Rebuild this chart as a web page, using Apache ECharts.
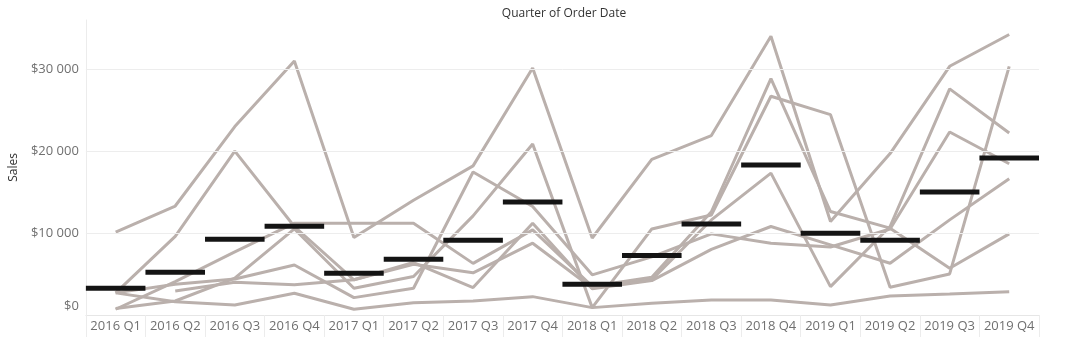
<!DOCTYPE html>
<html>
<head>
<meta charset="utf-8">
<script src="https://cdn.jsdelivr.net/npm/echarts@6/dist/echarts.min.js"></script>
<style>
  html, body { margin: 0; padding: 0; background: #ffffff; }
  #chart { width: 1068px; height: 347px; }
</style>
</head>
<body>
<div id="chart"></div>
<script>
// Quarterly sales, one grey line per group, black bar = quarter average
const quarters = ['2016 Q1', '2016 Q2', '2016 Q3', '2016 Q4',
                  '2017 Q1', '2017 Q2', '2017 Q3', '2017 Q4',
                  '2018 Q1', '2018 Q2', '2018 Q3', '2018 Q4',
                  '2019 Q1', '2019 Q2', '2019 Q3', '2019 Q4'];

const line1 = [10100, 13300, 23000, 31000, 9450, 14000, 18200, 30150, 9400, 19000, 21900, 34020, 11410, 19700, 30350, 34230];
const line2 = [2700, 9600, 20000, 10800, 4300, 6200, 5150, 8760, 3300, 4300, 11600, 17320, 3460, 10800, 27590, 22210];
const line3 = [800, 1710, 4500, 10500, 3260, 4700, 12100, 20870, 900, 10500, 12200, 26690, 24450, 3380, 5010, 30350];
const line4 = [700, 4080, 7700, 11200, 11200, 11200, 6300, 10390, 3500, 4600, 12600, 28850, 12630, 10600, 5710, 9900];
const line5 = [2700, 3750, 4400, 6100, 2120, 3260, 17450, 13240, 4900, 7100, 9900, 8760, 8300, 10500, 22330, 18460];
const line6 = [null, 2930, 4000, 3700, 4300, 6400, 3350, 11200, 3200, 4200, 8000, 10800, 8560, 6320, 11610, 16630];
const line7 = [2700, 1630, 1220, 2650, 700, 1500, 1700, 2240, 900, 1430, 1830, 1830, 1220, 2320, 2570, 2850];

const quarterAverage = [3260, 5220, 9250, 10840, 5100, 6810, 9130, 13780, 3750, 7250, 11120, 18300, 9990, 9130, 15000, 19150];

const yTicks = [0, 10000, 20000, 30000];

const groupLines = [line1, line2, line3, line4, line5, line6, line7];

function money(v) {
  return '$' + String(v).replace(/\B(?=(\d{3})+(?!\d))/g, ' ');
}

const FONT = '"Open Sans", "Noto Sans", sans-serif';
const LINE_GREY = '#bab0ac';

const chart = echarts.init(document.getElementById('chart'), null, { renderer: 'canvas' });

const series = [];

// light horizontal gridlines at the labelled ticks
series.push({
  type: 'line',
  data: [],
  silent: true,
  z: 1,
  markLine: {
    silent: true,
    symbol: ['none', 'none'],
    label: { show: false },
    lineStyle: { color: '#ededed', width: 1, type: 'solid' },
    emphasis: { disabled: true },
    data: yTicks.filter(v => v > 0).map(v => ({ yAxis: v }))
  }
});

groupLines.forEach((vals, k) => {
  series.push({
    type: 'line',
    name: 'group' + (k + 1),
    data: vals,
    symbol: 'none',
    smooth: false,
    connectNulls: false,
    lineStyle: { color: LINE_GREY, width: 3 },
    emphasis: { disabled: true },
    z: 2
  });
});

// quarter average drawn as a thick bar across the whole band
series.push({
  type: 'custom',
  z: 5,
  data: quarterAverage.map((v, i) => [i, v]),
  renderItem: function (params, api) {
    const c = api.coord([api.value(0), api.value(1)]);
    const w = api.size([1, 0])[0];
    return {
      type: 'rect',
      shape: { x: c[0] - w / 2, y: c[1] - 2.5, width: w, height: 5 },
      style: { fill: '#141414' }
    };
  }
});

chart.setOption({
  animation: false,
  backgroundColor: '#ffffff',
  title: {
    text: 'Quarter of Order Date',
    left: 559,
    textAlign: 'center',
    top: 3,
    textStyle: { fontFamily: FONT, fontSize: 12, fontWeight: 'normal', color: '#333333' }
  },
  grid: { left: 79, right: 29, top: 20, bottom: 32, containLabel: false },
  xAxis: {
    type: 'category',
    data: quarters,
    boundaryGap: true,
    axisLine: { show: true, lineStyle: { color: '#e6e6e6', width: 1 } },
    axisTick: { show: true, alignWithLabel: false, interval: 0, length: 22, lineStyle: { color: '#ececec' } },
    axisLabel: { interval: 0, color: '#707070', fontFamily: FONT, fontSize: 13, margin: 5 },
    splitLine: { show: false }
  },
  yAxis: {
    type: 'value',
    min: 0,
    max: 36000,
    interval: 10000,
    name: 'Sales',
    nameLocation: 'middle',
    nameGap: 62,
    nameRotate: 90,
    nameTextStyle: { fontFamily: FONT, fontSize: 12, color: '#333333' },
    axisLine: { show: true, lineStyle: { color: '#ececec', width: 1 } },
    axisTick: { show: false },
    splitLine: { show: false },
    axisLabel: {
      showMaxLabel: false,
      color: '#707070',
      fontFamily: FONT,
      fontSize: 13,
      margin: 7,
      formatter: function (v) {
        if (yTicks.indexOf(v) < 0) return '';
        if (v === 0) return '{z|' + money(v) + '}';
        return money(v);
      },
      rich: {
        z: { color: '#707070', fontFamily: FONT, fontSize: 13, padding: [0, 0, 18, 0] }
      }
    }
  },
  series: series
});
</script>
</body>
</html>
